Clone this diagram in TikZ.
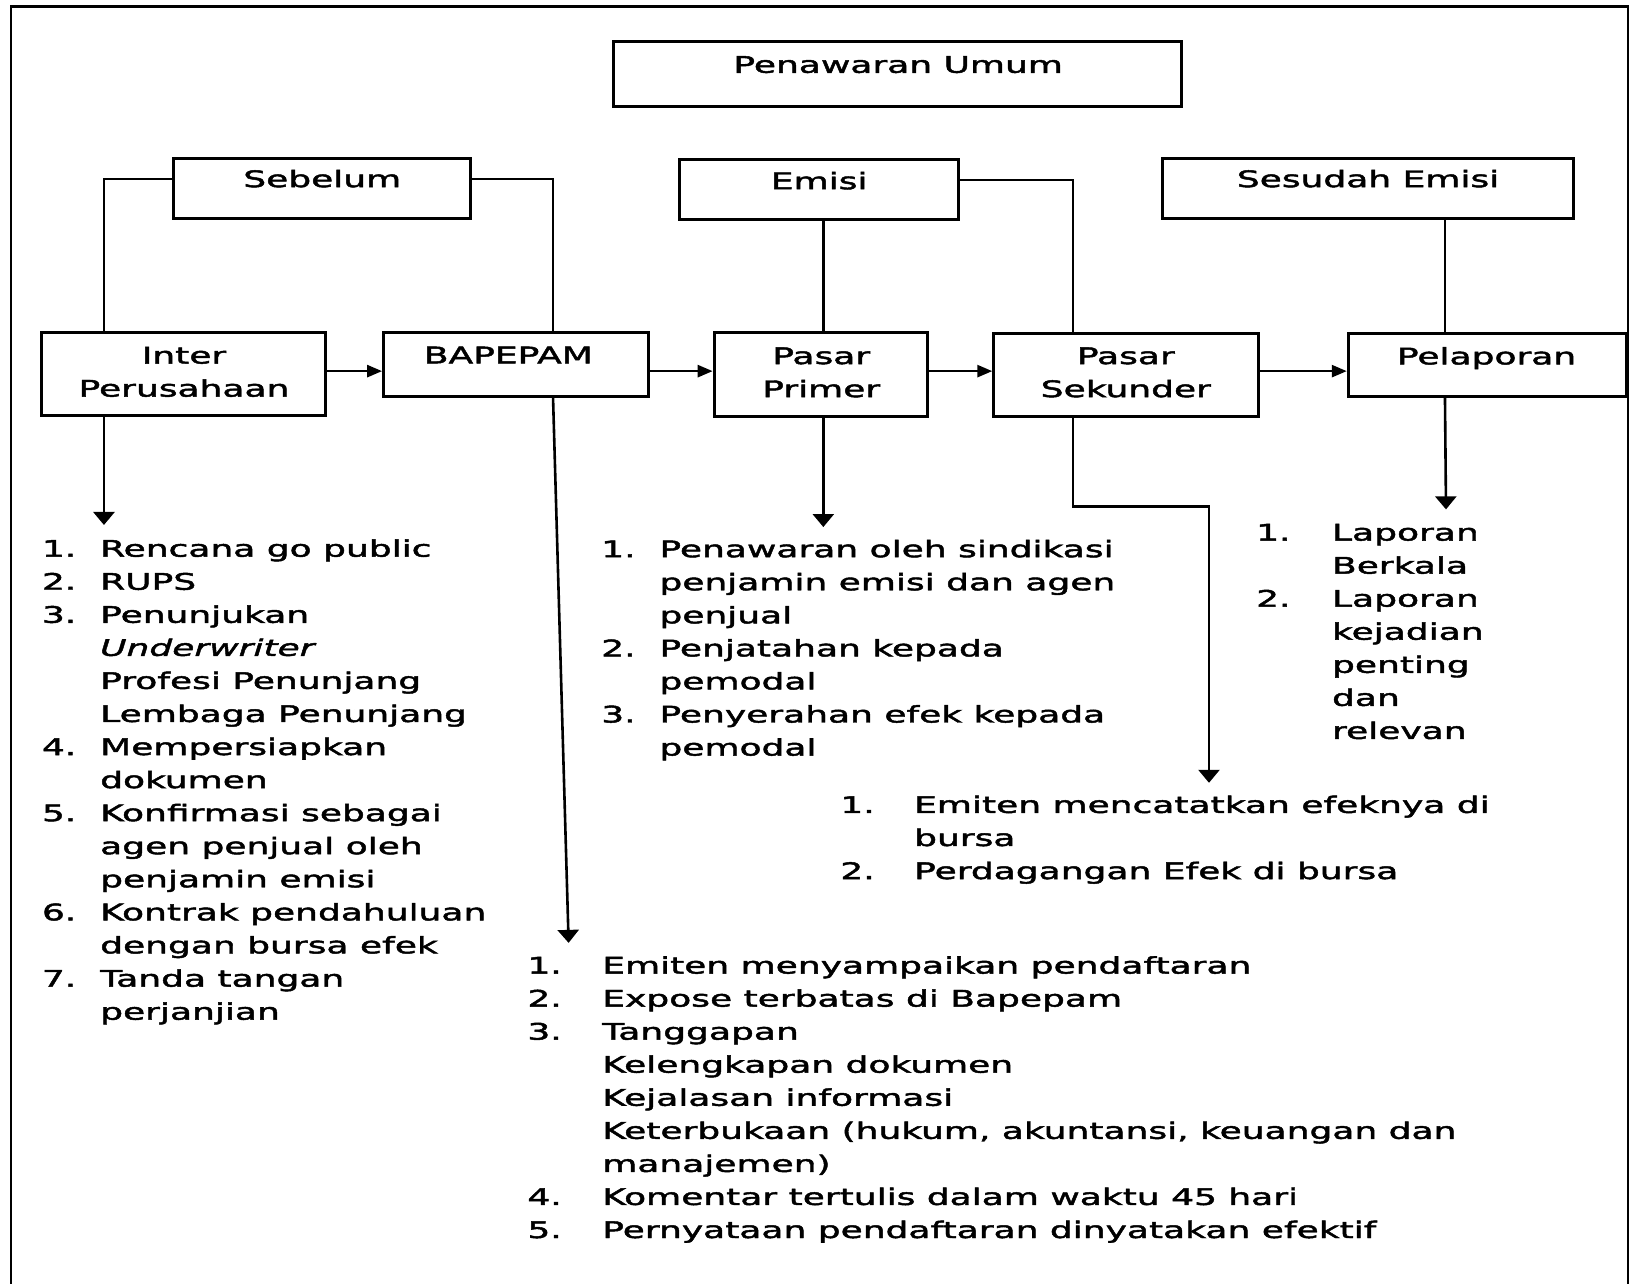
\documentclass[tikz,border=0pt]{standalone}
\usepackage{fontspec}
\setmainfont[FakeStretch=1.58, FakeBold=2.0]{DejaVu Sans}
\usetikzlibrary{shapes, arrows.meta, fit, calc, positioning}

\newcommand{\lfont}{\fontsize{11.4}{16.54}\selectfont}

\begin{document}
\begin{tikzpicture}[
  x=0.52pt, y=-0.52pt,
  box/.style={draw, line width=1.5pt, inner sep=0pt},
  boxtxt/.style={anchor=base, align=center, inner sep=0pt, font=\lfont},
  num/.style={anchor=base west, inner sep=0pt, font=\lfont},
  lst/.style={anchor=base west, align=left, inner sep=0pt, font=\lfont},
  link/.style={line width=1.3pt},
  varr/.style={link, -{Triangle[length=6.5pt, width=10.5pt]}},
  harr/.style={link, -{Triangle[length=7.5pt, width=6pt]}}]

  \useasboundingbox (0,0) rectangle (1568,1235);
  % frame
  \draw[line width=1.4pt] (10.6,1235) -- (10.6,6.5) -- (1566,6.5) -- (1566,1235);

  % boxes
  \node[box, fit={(590,40) (1137,102)}] (umum) {};
  \node[box, fit={(167,152) (453,210)}] (sebelum) {};
  \node[box, fit={(654,153) (922,211)}] (emisi) {};
  \node[box, fit={(1118,152) (1514,210)}] (sesudah) {};
  \node[box, fit={(40,320) (313,400)}] (inter) {};
  \node[box, fit={(369,320) (624,381)}] (bapepam) {};
  \node[box, fit={(687,320) (892,401)}] (primer) {};
  \node[box, fit={(956,321) (1211,401)}] (sekunder) {};
  \node[box, fit={(1297,321) (1565,381)}] (pelaporan) {};

  % box labels (base = last line)
  \node[boxtxt] (umumT) at (864,70) {Penawaran Umum};
  \node[boxtxt] (sebelumT) at (310,180) {Sebelum};
  \node[boxtxt] (emisiT) at (788,182) {Emisi};
  \node[boxtxt] (sesudahT) at (1316,180) {Sesudah Emisi};
  \node[boxtxt] (interT) at (177,381.5) {Inter\\Perusahaan};
  \node[boxtxt] (bapepamT) at (489,349.5) {BAPEPAM};
  \node[boxtxt] (primerT) at (790,382) {Pasar\\Primer};
  \node[boxtxt] (sekunderT) at (1083,382) {Pasar\\Sekunder};
  \node[boxtxt] (pelaporanT) at (1430,350.5) {Pelaporan};

  % connectors
  \draw[link] ($(sebelum.west)+(0,-9)$) -| (inter.north -| 100,0);
  \draw[link] ($(sebelum.east)+(0,-9)$) -| (bapepam.north -| 532,0);
  \draw[link] (emisi.south -| 792,0) -- (primer.north -| 792,0);
  \draw[link] ($(emisi.east)+(0,-9)$) -| (sekunder.north -| 1032,0);
  \draw[link] (sesudah.south -| 1390,0) -- (pelaporan.north -| 1390,0);

  \draw[harr] (inter.east |- 0,357) -- (bapepam.west |- 0,357);
  \draw[harr] (bapepam.east |- 0,357) -- (primer.west |- 0,357);
  \draw[harr] (primer.east |- 0,357) -- (sekunder.west |- 0,357);
  \draw[harr] (sekunder.east |- 0,357) -- (pelaporan.west |- 0,357);

  \coordinate (tipA) at (100,505);
  \coordinate (tipB) at (547,907);
  \coordinate (tipC) at (792,507);
  \coordinate (bend) at (1163,487);
  \coordinate (tipD) at (1163,753);
  \coordinate (tipE) at (1391,490);
  \draw[varr] (inter.south -| 100,0) -- (tipA);
  \draw[varr] (bapepam.south -| 532,0) -- (tipB);
  \draw[varr] (primer.south -| 792,0) -- (tipC);
  \draw[varr] (sekunder.south -| 1032,0) |- (bend) -- (tipD);
  \draw[varr] (pelaporan.south -| 1390,0) -- (tipE);

  % sebelum emisi
  \node[num] (a1) at (40,535.5) {1.};
  \node[lst] (a1T) at (96,535.5) {Rencana go public};
  \node[num] (a2) at (40,567.3) {2.};
  \node[lst] (a2T) at (96,567.3) {RUPS};
  \node[num] (a3) at (40,599.1) {3.};
  \node[lst] (a3T) at (96,694.5) {Penunjukan\\\textit{Underwriter}\\Profesi Penunjang\\Lembaga Penunjang};
  \node[num] (a4) at (40,726.3) {4.};
  \node[lst] (a4T) at (96,758.1) {Mempersiapkan\\dokumen};
  \node[num] (a5) at (40,789.9) {5.};
  \node[lst] (a5T) at (96,853.5) {Konfirmasi sebagai\\agen penjual oleh\\penjamin emisi};
  \node[num] (a6) at (40,885.3) {6.};
  \node[lst] (a6T) at (96,917.1) {Kontrak pendahuluan\\dengan bursa efek};
  \node[num] (a7) at (40,949.1) {7.};
  \node[lst] (a7T) at (96,980.9) {Tanda tangan\\perjanjian};

  % bapepam
  \node[num] (b1) at (507,936.5) {1.};
  \node[lst] (b1T) at (579,936.5) {Emiten menyampaikan pendaftaran};
  \node[num] (b2) at (507,968.3) {2.};
  \node[lst] (b2T) at (579,968.3) {Expose terbatas di Bapepam};
  \node[num] (b3) at (507,1000.1) {3.};
  \node[lst] (b3T) at (579,1127.3) {Tanggapan\\Kelengkapan dokumen\\Kejalasan informasi\\Keterbukaan (hukum, akuntansi, keuangan dan\\manajemen)};
  \node[num] (b4) at (507,1159.1) {4.};
  \node[lst] (b4T) at (579,1159.1) {Komentar tertulis dalam waktu 45 hari};
  \node[num] (b5) at (507,1190.9) {5.};
  \node[lst] (b5T) at (579,1190.9) {Pernyataan pendaftaran dinyatakan efektif};

  % pasar primer
  \node[num] (c1) at (578,536) {1.};
  \node[lst] (c1T) at (634,599.6) {Penawaran oleh sindikasi\\penjamin emisi dan agen\\penjual};
  \node[num] (c2) at (578,631.4) {2.};
  \node[lst] (c2T) at (634,663.2) {Penjatahan kepada\\pemodal};
  \node[num] (c3) at (578,695) {3.};
  \node[lst] (c3T) at (634,726.8) {Penyerahan efek kepada\\pemodal};

  % pasar sekunder
  \node[num] (d1) at (808,782) {1.};
  \node[lst] (d1T) at (879,813.8) {Emiten mencatatkan efeknya di\\bursa};
  \node[num] (d2) at (808,845.6) {2.};
  \node[lst] (d2T) at (879,845.6) {Perdagangan Efek di bursa};

  % pelaporan
  \node[num] (e1) at (1208,520) {1.};
  \node[lst] (e1T) at (1281,551.8) {Laporan\\Berkala};
  \node[num] (e2) at (1208,583.6) {2.};
  \node[lst] (e2T) at (1281,710.8) {Laporan\\kejadian\\penting\\dan\\relevan};
\end{tikzpicture}
\end{document}
